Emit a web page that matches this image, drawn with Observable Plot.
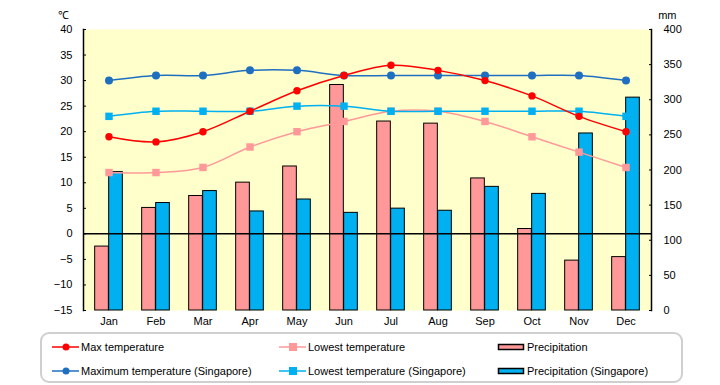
<!DOCTYPE html>
<html><head><meta charset="utf-8">
<script src="https://cdn.jsdelivr.net/npm/d3@7"></script>
<script src="https://cdn.jsdelivr.net/npm/@observablehq/plot@0.6"></script>
<style>
body{margin:0;background:#fff;font-family:"Liberation Sans",Arial,sans-serif;}
#chart{position:relative;width:720px;height:385px;}
#chart svg.layer{position:absolute;left:0;top:0;background:transparent;}
#legend{position:absolute;left:40px;top:332px;width:639px;height:47px;border:2px solid #cfcfcf;border-radius:9px;}
</style></head><body>
<div id="chart"></div>
<script>
const months = ["Jan","Feb","Mar","Apr","May","Jun","Jul","Aug","Sep","Oct","Nov","Dec"];
const maxTemp = [19,18,20,24,28,31,33,32,30,27,23,20];
const minTemp = [12,12,13,17,20,22,24,24,22,19,16,13];
const precip = [91,146,163,182,205,321,269,266,188,116,71,76];
const sgMaxTemp = [30,31,31,32,32,31,31,31,31,31,31,30];
const sgMinTemp = [23,24,24,24,25,25,24,24,24,24,24,23];
const sgPrecip = [197,153,170,141,158,139,145,142,176,166,252,303];
const tempTicks = d3.range(-15, 41, 5);
const precipTicks = d3.range(0, 401, 50);
const seriesNames = ["Max temperature","Lowest temperature","Precipitation","Maximum temperature (Singapore)","Lowest temperature (Singapore)","Precipitation (Singapore)"];

const data = months.map((m,i)=>({month:m, maxTemp:maxTemp[i], minTemp:minTemp[i], precip:precip[i], sgMaxTemp:sgMaxTemp[i], sgMinTemp:sgMinTemp[i], sgPrecip:sgPrecip[i]}));

const C = {red:"#ff0000", pink:"#ff9999", dblue:"#1f6fc0", lblue:"#00b0f0", bg:"#ffffcc"};
const W = 720, H = 330, mL = 83, mR = 69, mT = 29, mB = 20;
const bw = (W - mL - mR) / months.length;
const barW = 14;
const font = {fontSize:"11px", fontFamily:"'Liberation Sans', Arial, sans-serif", color:"black"};
const chart = document.getElementById("chart");

const base = {width:W, height:H, marginLeft:mL, marginRight:mR, marginTop:mT, marginBottom:mB, style:font,
  x:{type:"band", domain:months, padding:0, axis:null}};

// bottom layer: precipitation (right axis)
const p1 = Plot.plot({...base,
  y:{domain:[0,400], axis:null},
  marks:[
    Plot.frame({fill:C.bg, stroke:null}),
    Plot.barY(data,{x:"month", y:"precip", fill:C.pink, stroke:"black", strokeWidth:1, insetLeft:bw/2-barW, insetRight:bw/2}),
    Plot.barY(data,{x:"month", y:"sgPrecip", fill:C.lblue, stroke:"black", strokeWidth:1, insetLeft:bw/2, insetRight:bw/2-barW}),
    Plot.axisY(precipTicks,{anchor:"right", tickSize:3, dx:-3, tickPadding:12, label:null, tickFormat:d=>String(d)}),
    Plot.frame({anchor:"right", stroke:"black", strokeWidth:1.5}),
    Plot.text(["mm"],{frameAnchor:"top-right", dx:25, dy:-18, fontSize:11})
  ]});
p1.classList.add("layer");
chart.appendChild(p1);

// top layer: temperatures (left axis)
const lineOpts = {x:"month", curve:"catmull-rom", strokeWidth:1.5};
const p2 = Plot.plot({...base,
  y:{domain:[-15,40], axis:null},
  marks:[
    Plot.ruleY([0],{stroke:"black", strokeWidth:1.5}),
    Plot.line(data,{...lineOpts, y:"minTemp", stroke:C.pink}),
    Plot.dot(data,{x:"month", y:"minTemp", symbol:"square", r:4.2, fill:C.pink}),
    Plot.line(data,{...lineOpts, y:"sgMinTemp", stroke:C.lblue}),
    Plot.dot(data,{x:"month", y:"sgMinTemp", symbol:"square", r:4.2, fill:C.lblue}),
    Plot.line(data,{...lineOpts, y:"sgMaxTemp", stroke:C.dblue}),
    Plot.dot(data,{x:"month", y:"sgMaxTemp", r:4, fill:C.dblue}),
    Plot.line(data,{...lineOpts, y:"maxTemp", stroke:C.red}),
    Plot.dot(data,{x:"month", y:"maxTemp", r:3.7, fill:C.red}),
    Plot.axisY(tempTicks,{anchor:"left", tickSize:3, dx:3, tickPadding:11, label:null}),
    Plot.frame({anchor:"left", stroke:"black", strokeWidth:1.5}),
    Plot.axisX({tickSize:0, tickPadding:7, label:null}),
    Plot.text(["℃"],{frameAnchor:"top-left", dx:-26, dy:-18, fontSize:11})
  ]});
p2.classList.add("layer");
chart.appendChild(p2);

// legend
const leg = document.createElement("div");
leg.id = "legend";
chart.appendChild(leg);
const ls = d3.select(chart).append("svg").attr("class","layer").attr("width",720).attr("height",385)
  .style("font-family","'Liberation Sans', Arial, sans-serif").style("font-size","11px");
const legItems = [
  {name:seriesNames[0], color:C.red, kind:"circle", x:52, y:347},
  {name:seriesNames[1], color:C.pink, kind:"square", x:279, y:347},
  {name:seriesNames[2], color:C.pink, kind:"bar", x:498, y:347},
  {name:seriesNames[3], color:C.dblue, kind:"circle", x:52, y:371},
  {name:seriesNames[4], color:C.lblue, kind:"square", x:279, y:371},
  {name:seriesNames[5], color:C.lblue, kind:"bar", x:498, y:371}
];
legItems.forEach(it=>{
  const g = ls.append("g").attr("transform",`translate(${it.x},${it.y})`);
  if(it.kind==="bar"){
    g.append("rect").attr("x",0.5).attr("y",-2.5).attr("width",25).attr("height",5).attr("fill",it.color).attr("stroke","black").attr("stroke-width",1.5);
  } else {
    g.append("line").attr("x1",0).attr("x2",27).attr("stroke",it.color).attr("stroke-width",1.5);
    if(it.kind==="circle") g.append("circle").attr("cx",14).attr("r",3.5).attr("fill",it.color);
    else g.append("rect").attr("x",10).attr("y",-4).attr("width",8).attr("height",8).attr("fill",it.color);
  }
  g.append("text").attr("x",29).attr("dy","0.35em").text(it.name);
});
</script>
</body></html>
